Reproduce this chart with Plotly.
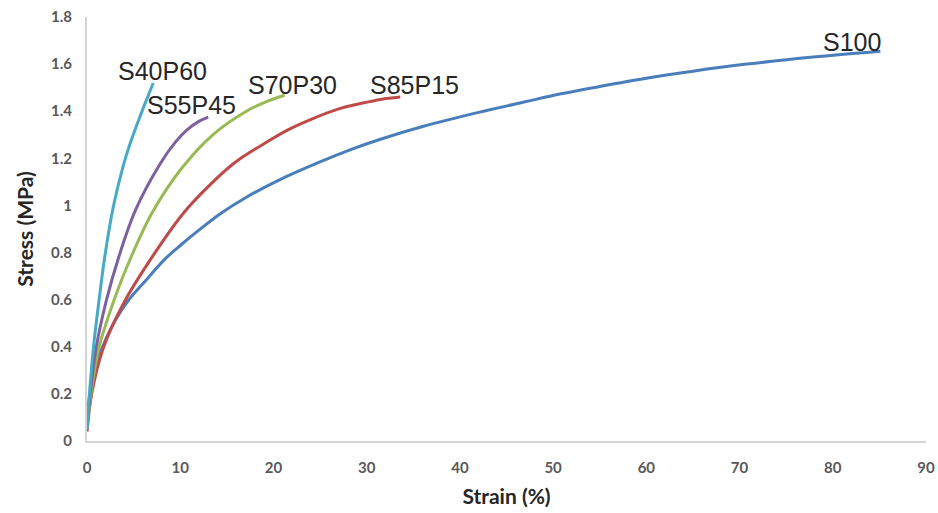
import plotly.graph_objects as go

# ---- data ----
s40p60_strain = [0, 0.3, 0.7, 1.3, 1.9, 2.8, 3.9, 4.6, 5.9, 6.4, 7.1]
s40p60_stress = [0.05, 0.22, 0.40, 0.60, 0.78, 0.99, 1.17, 1.26, 1.40, 1.45, 1.52]

s55p45_strain = [0, 0.4, 1.0, 2.1, 3.4, 5.2, 7.9, 9.5, 10.7, 12.0, 13.0]
s55p45_stress = [0.05, 0.22, 0.40, 0.60, 0.78, 0.98, 1.18, 1.27, 1.32, 1.357, 1.375]

s70p30_strain = [0, 0.5, 1.3, 3.1, 4.5, 7.0, 10.2, 13.5, 17.1, 19.5, 21.2]
s70p30_stress = [0.05, 0.22, 0.40, 0.62, 0.76, 0.97, 1.16, 1.30, 1.40, 1.445, 1.468]

s85p15_strain = [0, 0.5, 1.7, 4.0, 6.8, 10.4, 13.0, 15.8, 18.9, 21.5, 24.3, 27.0, 29.6, 31.5, 33.6]
s85p15_stress = [0.04, 0.2, 0.39, 0.59, 0.77, 0.97, 1.08, 1.18, 1.26, 1.32, 1.37, 1.41, 1.435, 1.45, 1.46]

s100_strain = [0, 0.3, 1.0, 2.0, 3.0, 4.5, 6.5, 8.3, 10, 12, 14.3, 17.1, 20.7, 25, 28.5,
               31.4, 36, 42, 47, 51, 55, 60, 65, 70.8, 77.9, 85.1]
s100_stress = [0.05, 0.2, 0.33, 0.43, 0.51, 0.60, 0.69, 0.77, 0.83, 0.895, 0.965, 1.035, 1.11, 1.185, 1.24,
               1.28, 1.335, 1.395, 1.44, 1.475, 1.505, 1.54, 1.57, 1.60, 1.63, 1.655]

labels = ["S100", "S85P15", "S70P30", "S55P45", "S40P60"]
label_x = [82.1, 35.1, 22.05, 11.2, 8.1]
label_y = [1.694, 1.51, 1.51, 1.425, 1.571]

x_ticks = [0, 10, 20, 30, 40, 50, 60, 70, 80, 90]
y_ticks = [0, 0.2, 0.4, 0.6, 0.8, 1, 1.2, 1.4, 1.6, 1.8]
y_tick_text = ["0", "0.2", "0.4", "0.6", "0.8", "1", "1.2", "1.4", "1.6", "1.8"]

series = [
    ("S100", s100_strain, s100_stress, "#4a7ebb"),
    ("S85P15", s85p15_strain, s85p15_stress, "#be4b48"),
    ("S70P30", s70p30_strain, s70p30_stress, "#98b954"),
    ("S55P45", s55p45_strain, s55p45_stress, "#7d60a0"),
    ("S40P60", s40p60_strain, s40p60_stress, "#46aac5"),
]

fig = go.Figure()
for name, xs, ys, col in series:
    fig.add_trace(go.Scatter(x=xs, y=ys, mode="lines", name=name,
                             line=dict(color=col, width=3, shape="spline", smoothing=1.0)))

for t, x, y in zip(labels, label_x, label_y):
    fig.add_annotation(x=x, y=y, text=t, showarrow=False, xref="x", yref="y",
                       font=dict(family="Liberation Sans, Arial", size=25, color="#262626"))

tick_font = dict(family="Lato, Arial", size=15, color="#595959", weight="bold")
title_font = dict(family="Lato, Arial", size=21, color="#262626", weight="bold")

fig.update_layout(
    width=938, height=513,
    margin=dict(l=87, r=12, t=17, b=72),
    paper_bgcolor="white", plot_bgcolor="white",
    showlegend=False,
    xaxis=dict(range=[0, 90], tickvals=x_ticks, showgrid=False, zeroline=False,
               automargin=False,
               showline=True, linecolor="#d4d4d4", linewidth=2,
               ticks="outside", ticklen=12, tickcolor="rgba(0,0,0,0)",
               tickfont=tick_font,
               title=dict(text="Strain (%)", standoff=14, font=title_font)),
    yaxis=dict(range=[0, 1.8], tickvals=y_ticks, ticktext=y_tick_text, showgrid=False,
               automargin=False,
               zeroline=False, showline=True, linecolor="#d4d4d4", linewidth=2,
               ticks="outside", ticklen=10, tickcolor="rgba(0,0,0,0)",
               tickfont=tick_font,
               title=dict(text="Stress (MPa)", standoff=12, font=title_font)),
)

fig.write_html("out.html")
